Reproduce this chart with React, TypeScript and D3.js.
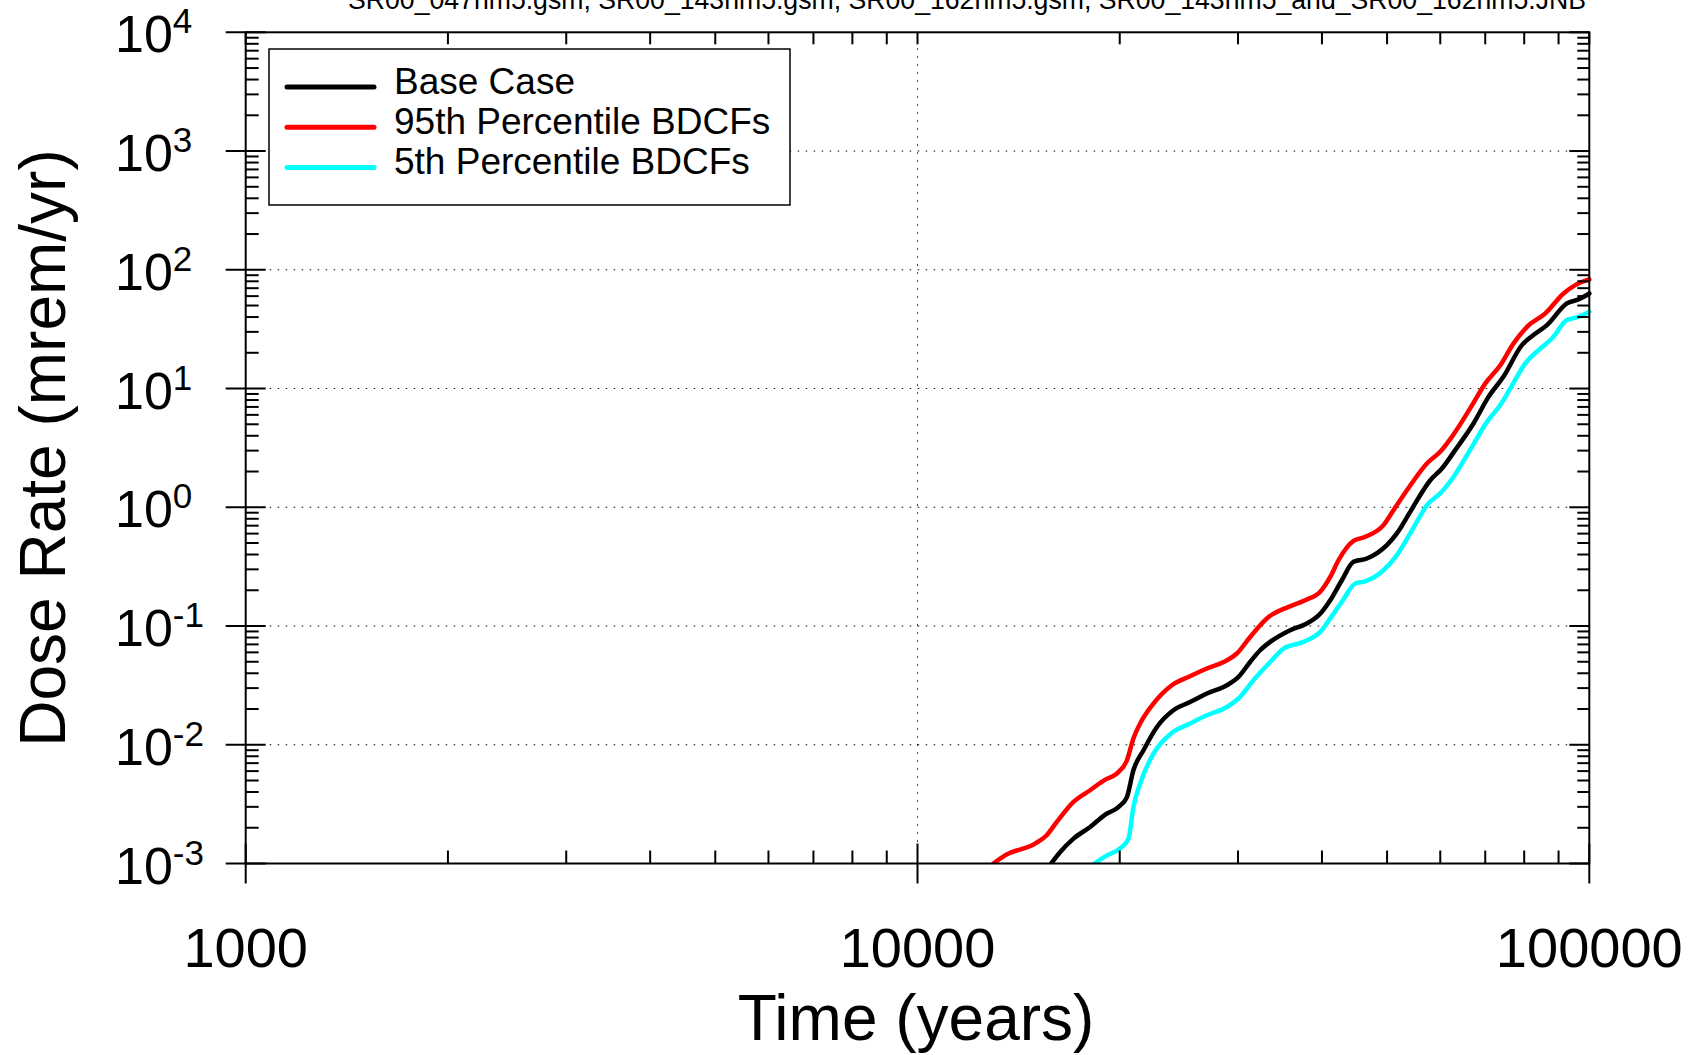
import React from 'react'
import * as d3 from 'd3'

// Time (years) and dose rate (mrem/yr)
const baseTime = [15810, 16310, 17070, 18070, 19030, 19910, 20500, 20960, 21700, 22720, 24040, 25450, 26960, 28870, 30050, 31270, 32360, 33500, 35870, 37980, 39760, 41150, 42820, 44570, 46660, 49960, 51710, 54120, 57980, 60340, 63150, 67230, 70790, 74530, 79380, 82150, 86480, 92620, 96360, 100000]
const baseDose = [0.001, 0.00125, 0.00162, 0.00203, 0.00258, 0.00299, 0.00363, 0.0061, 0.00899, 0.0141, 0.0195, 0.0229, 0.027, 0.0317, 0.0373, 0.0498, 0.0625, 0.0735, 0.0922, 0.105, 0.127, 0.165, 0.243, 0.347, 0.37, 0.48, 0.602, 0.915, 1.69, 2.12, 3.03, 5.08, 8.51, 12.6, 23.2, 27.6, 34.2, 52.1, 56.3, 63.2]

const p95Time = [12970, 13500, 14960, 15570, 16120, 17070, 18070, 19030, 19800, 20500, 20960, 21450, 22450, 23910, 25450, 26960, 28710, 29880, 31270, 33310, 35670, 37760, 39760, 41150, 42330, 44570, 46390, 49390, 51110, 53520, 57310, 59980, 62440, 66470, 69990, 73700, 77140, 80770, 86000, 91550, 95280, 100000]
const p95Dose = [0.001, 0.00117, 0.00147, 0.00173, 0.00224, 0.0033, 0.00414, 0.00509, 0.00572, 0.0074, 0.0113, 0.0151, 0.0222, 0.0317, 0.0378, 0.0439, 0.0505, 0.0587, 0.0809, 0.119, 0.145, 0.165, 0.194, 0.259, 0.358, 0.521, 0.563, 0.707, 0.945, 1.39, 2.34, 2.93, 3.92, 6.8, 11.0, 15.7, 24.0, 33.1, 42.9, 63.2, 74.3, 83.0]

const p5Time = [18340, 19140, 20030, 20610, 20960, 21450, 22450, 23910, 25450, 26960, 28870, 30220, 31630, 33700, 35060, 37540, 39760, 41150, 42820, 44830, 46390, 49390, 51710, 54120, 57640, 59980, 62780, 66870, 70410, 73700, 76270, 80290, 84050, 87980, 92620, 95830, 100000]
const p5Dose = [0.001, 0.00117, 0.00134, 0.00162, 0.00299, 0.00471, 0.00843, 0.0126, 0.0151, 0.0177, 0.0208, 0.0253, 0.035, 0.0515, 0.0646, 0.0735, 0.0892, 0.116, 0.16, 0.228, 0.238, 0.295, 0.395, 0.602, 1.08, 1.31, 1.8, 3.23, 5.24, 7.25, 10.0, 16.3, 21.1, 26.4, 37.7, 39.7, 44.3]

const seriesNames = ['Base Case', '95th Percentile BDCFs', '5th Percentile BDCFs']
const seriesColors = ['#000000', '#ff0000', '#00ffff']

const xTicks = [1000, 10000, 100000]
const yExponents = [-3, -2, -1, 0, 1, 2, 3, 4]

const title = 'SR00_047nm5.gsm, SR00_143nm5.gsm, SR00_162nm5.gsm, SR00_143nm5_and_SR00_162nm5.JNB'

const font = '"Liberation Sans", Arial, Helvetica, sans-serif'

export default function App() {
  const width = 1703
  const height = 1055
  const left = 245.7, right = 1589.3, top = 32.3, bottom = 863.5

  const x = d3.scaleLog().domain([1000, 100000]).range([left, right])
  const y = d3.scaleLog().domain([1e-3, 1e4]).range([bottom, top])

  const line = d3.line<[number, number]>()
    .x(d => x(d[0]))
    .y(d => y(d[1]))
    .curve(d3.curveMonotoneX)

  const series = [
    d3.zip(baseTime, baseDose) as [number, number][],
    d3.zip(p95Time, p95Dose) as [number, number][],
    d3.zip(p5Time, p5Dose) as [number, number][],
  ]

  // minor ticks 2..9 within each decade
  const xMinor: number[] = []
  for (let d = 1000; d < 100000; d *= 10) for (let k = 2; k <= 9; k++) xMinor.push(k * d)
  const yMinor: number[] = []
  for (let e = -3; e < 4; e++) for (let k = 2; k <= 9; k++) yMinor.push(k * Math.pow(10, e))

  const dots = '1.5 6.5'

  return (
    <svg width={width} height={height} style={{ position: 'absolute', left: 0, top: 0, background: '#fff' }}
      fontFamily={font}>
      <defs>
        <clipPath id="plot">
          <rect x={left} y={top - 3} width={right - left + 3} height={bottom - top + 3} />
        </clipPath>
      </defs>

      <text x={348} y={9} fontSize={27} textLength={1238} lengthAdjust="spacingAndGlyphs">{title}</text>

      {/* grid */}
      {yExponents.slice(1, -1).map(e => (
        <line key={'gy' + e} x1={left} x2={right} y1={y(Math.pow(10, e))} y2={y(Math.pow(10, e))}
          stroke="#000" strokeWidth={1} strokeDasharray={dots} />
      ))}
      <line x1={x(10000)} x2={x(10000)} y1={top} y2={bottom} stroke="#000" strokeWidth={1} strokeDasharray={dots} />

      {/* curves */}
      <g clipPath="url(#plot)">
        {[1, 0, 2].map(i => (
          <path key={i} d={line(series[i]) || ''} fill="none" stroke={seriesColors[i]} strokeWidth={4.5}
            strokeLinejoin="round" strokeLinecap="round" />
        ))}
      </g>

      {/* frame */}
      <rect x={left} y={top} width={right - left} height={bottom - top} fill="none" stroke="#000" strokeWidth={2} />

      {/* y ticks */}
      {yExponents.map(e => {
        const yy = y(Math.pow(10, e))
        return (
          <g key={'ty' + e}>
            <line x1={left - 20} x2={left + 20} y1={yy} y2={yy} stroke="#000" strokeWidth={2} />
            <line x1={right - 20} x2={right} y1={yy} y2={yy} stroke="#000" strokeWidth={2} />
            <text x={115} y={yy + 20} fontSize={52}>
              10<tspan fontSize={35} dy={-19}>{e}</tspan>
            </text>
          </g>
        )
      })}
      {yMinor.map((v, i) => (
        <g key={'my' + i}>
          <line x1={left} x2={left + 13} y1={y(v)} y2={y(v)} stroke="#000" strokeWidth={2} />
          <line x1={right - 12} x2={right} y1={y(v)} y2={y(v)} stroke="#000" strokeWidth={2} />
        </g>
      ))}

      {/* x ticks */}
      {xTicks.map(t => (
        <g key={'tx' + t}>
          <line x1={x(t)} x2={x(t)} y1={bottom - 20} y2={bottom + 20} stroke="#000" strokeWidth={2} />
          <line x1={x(t)} x2={x(t)} y1={top} y2={top + 12} stroke="#000" strokeWidth={2} />
          <text x={x(t)} y={967} fontSize={56} textAnchor="middle">{t}</text>
        </g>
      ))}
      {xMinor.map((v, i) => (
        <g key={'mx' + i}>
          <line x1={x(v)} x2={x(v)} y1={bottom - 13} y2={bottom} stroke="#000" strokeWidth={2} />
          <line x1={x(v)} x2={x(v)} y1={top} y2={top + 12} stroke="#000" strokeWidth={2} />
        </g>
      ))}

      {/* axis titles */}
      <text x={916} y={1040} fontSize={64} textAnchor="middle">Time (years)</text>
      <text transform="translate(65,448) rotate(-90)" fontSize={64} textAnchor="middle">Dose Rate (mrem/yr)</text>

      {/* legend */}
      <rect x={269} y={49} width={521} height={156} fill="#fff" stroke="#000" strokeWidth={1.5} />
      {seriesNames.map((name, i) => (
        <g key={name} transform={`translate(0,${87 + i * 40.3})`}>
          <line x1={287} x2={374} y1={0} y2={0} stroke={seriesColors[i]} strokeWidth={5} strokeLinecap="round" />
          <text x={394} y={6.6} fontSize={37}>{name}</text>
        </g>
      ))}
    </svg>
  )
}
